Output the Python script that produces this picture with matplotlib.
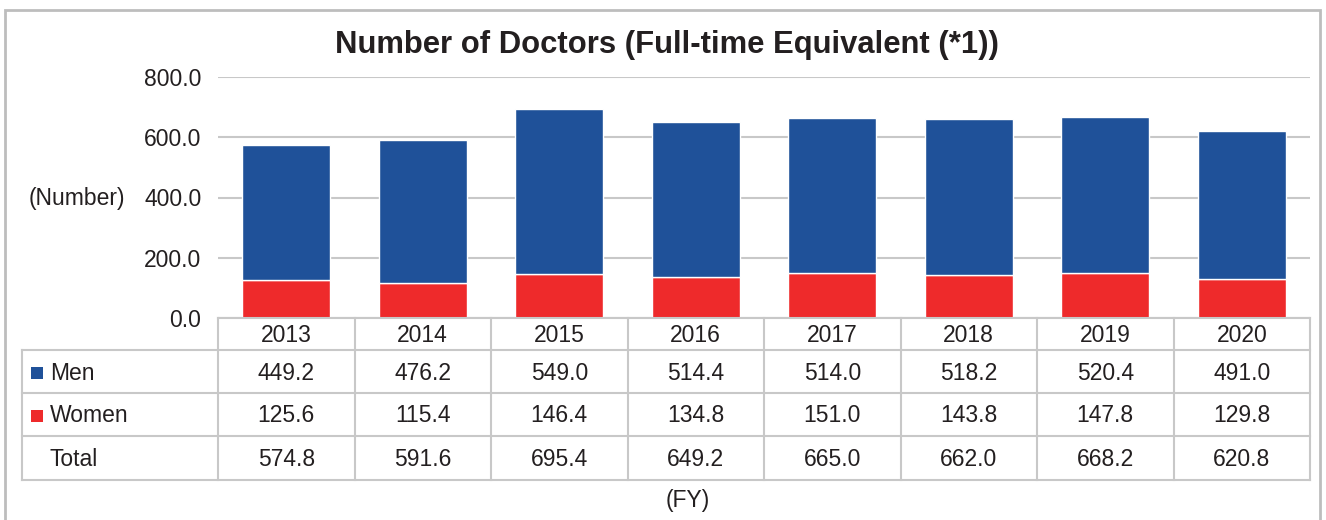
import matplotlib
matplotlib.use('Agg')
import matplotlib.pyplot as plt
from matplotlib.lines import Line2D
from matplotlib.patches import Rectangle
import numpy as np

plt.rcParams['font.family'] = ['Liberation Sans', 'DejaVu Sans']

years = ['2013', '2014', '2015', '2016', '2017', '2018', '2019', '2020']
men = [449.2, 476.2, 549.0, 514.4, 514.0, 518.2, 520.4, 491.0]
women = [125.6, 115.4, 146.4, 134.8, 151.0, 143.8, 147.8, 129.8]
total = [574.8, 591.6, 695.4, 649.2, 665.0, 662.0, 668.2, 620.8]
row_names = ['Men', 'Women', 'Total']
yticks = [0, 200, 400, 600, 800]

BLUE = '#1f5199'
RED = '#ee2a2b'
GRID = '#c8c8c8'
TXT = '#231f20'
FS = 16.5

W, H = 1326, 520
fig = plt.figure(figsize=(W / 100, H / 100), dpi=100)

def fx(x):
    return x / W

def fy(y):
    return 1 - y / H

# plot area in pixels
left, right, top, bottom = 218, 1310, 77, 318
ax = fig.add_axes([fx(left), fy(bottom), fx(right - left), fy(top) - fy(bottom)])

x = np.arange(len(years))
ax.bar(x, women, width=0.645, color=RED, edgecolor='white', linewidth=1, zorder=3)
ax.bar(x, men, bottom=women, width=0.645, color=BLUE, edgecolor='white', linewidth=1, zorder=3)
ax.set_xlim(-0.5, len(years) - 0.5)
ax.set_ylim(0, 800)
ax.set_yticks(yticks)
ax.set_yticklabels(['%.1f' % v for v in yticks], fontsize=FS, color=TXT)
ax.tick_params(axis='y', length=0, pad=12)
ax.set_xticks([])
ax.grid(axis='y', color=GRID, linewidth=1.5, zorder=0)
for s in ax.spines.values():
    s.set_visible(False)

fig.text(fx(667), fy(45), 'Number of Doctors (Full-time Equivalent (*1))',
         ha='center', va='center', fontsize=22.3, fontweight='bold', color=TXT)
fig.text(fx(77), fy(198), '(Number)', ha='center', va='center', fontsize=FS, color=TXT)
fig.text(fx(688), fy(501), '(FY)', ha='center', va='center', fontsize=FS, color=TXT)

# data table below the plot
col_w = (right - left) / len(years)
row_y = [318, 350, 393, 436, 480]
tab_left = 22

def hline(x0, x1, y):
    fig.add_artist(Line2D([fx(x0), fx(x1)], [fy(y), fy(y)], color=GRID, linewidth=1.5))

def vline(x0, y0, y1):
    fig.add_artist(Line2D([fx(x0), fx(x0)], [fy(y0), fy(y1)], color=GRID, linewidth=1.5))

hline(left, right, row_y[0])
for y in row_y[1:]:
    hline(tab_left, right, y)
vline(tab_left, row_y[1], row_y[-1])
for i in range(len(years) + 1):
    vline(left + i * col_w, row_y[0], row_y[-1])

for i, yr in enumerate(years):
    cx = left + (i + 0.5) * col_w
    fig.text(fx(cx), fy((row_y[0] + row_y[1]) / 2 + 1.5), yr, ha='center', va='center',
             fontsize=FS, color=TXT)
    for r, vals in enumerate([men, women, total]):
        cy = (row_y[r + 1] + row_y[r + 2]) / 2 + 1.5
        fig.text(fx(cx), fy(cy), '%.1f' % vals[i], ha='center', va='center',
                 fontsize=FS, color=TXT)

for r, name in enumerate(row_names):
    cy = (row_y[r + 1] + row_y[r + 2]) / 2 + 1.5
    fig.text(fx(50), fy(cy), name, ha='left', va='center', fontsize=FS, color=TXT)
    if r < 2:
        c = BLUE if r == 0 else RED
        fig.add_artist(Rectangle((fx(31), fy(cy + 6)), fx(12), fy(0) - fy(12),
                                 facecolor=c, edgecolor='none'))

# outer frame (open at the bottom edge)
fig.add_artist(Rectangle((fx(5), fy(530)), fx(1320) - fx(5), fy(10) - fy(530),
                         facecolor='none', edgecolor='#bdbdbd', linewidth=2))

fig.savefig('out.png', dpi=100)
